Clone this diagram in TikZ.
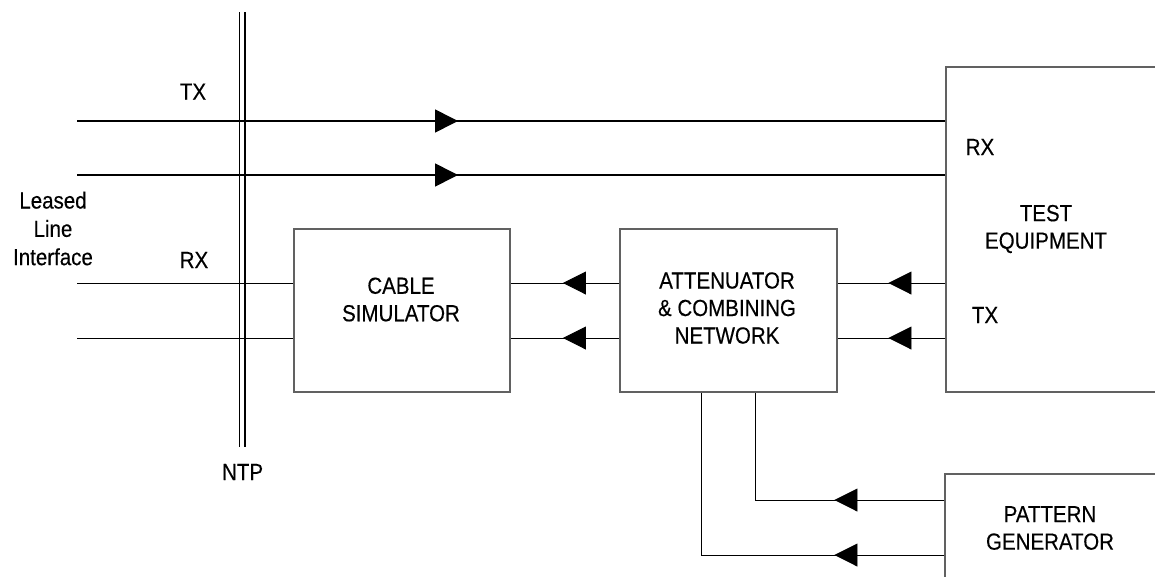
\documentclass[tikz,border=0pt]{standalone}
\usepackage{fontspec}
\setmainfont{Liberation Sans}
\newfontfamily\lblfont[FakeStretch=0.88,FakeBold=0.3]{Liberation Sans}
\usetikzlibrary{arrows.meta,decorations.markings}
\begin{document}
\begin{tikzpicture}[x=1pt,y=-1pt,
  box/.style={draw=black!62, line width=1.1pt, rectangle, inner sep=0pt},
  lbl/.style={font=\lblfont\fontsize{23.3}{27.5}\selectfont, align=center, inner sep=0pt},
  heavy/.style={line width=1.6pt},
  light/.style={line width=0.9pt},
  tip/.style={postaction={decorate},
    decoration={markings, mark=at position #1 with {\arrow{Triangle[length=23pt,width=23pt]}}}}
]
\useasboundingbox (0,0) rectangle (1155,576);
\clip (0,0) rectangle (1155,576);

% blocks
\node[box, minimum width=216pt, minimum height=163pt] (cable) at (402,310.5) {};
\node[box, minimum width=217pt, minimum height=163pt] (atten) at (728.5,310.5) {};
\node[box, minimum width=229pt, minimum height=325pt] (test) at (1060.5,229.5) {};
\node[box, minimum width=230pt, minimum height=126pt] (pattern) at (1060,537) {};

% block texts
\node[lbl] (cabletext) at (401,299.5) {CABLE\\SIMULATOR};
\node[lbl] (attentext) at (727,308) {ATTENUATOR\\\& COMBINING\\NETWORK};
\node[lbl] (testtext) at (1046,229) {TEST\\EQUIPMENT};
\node[lbl] (pattext) at (1050,528) {PATTERN\\GENERATOR};

% port labels
\node[lbl] (txlbl) at (193,91.7) {TX};
\node[lbl] (rxlbl) at (194,260) {RX};
\node[lbl] (terx) at (980,147) {RX};
\node[lbl] (tetx) at (985,315) {TX};
\node[lbl, font=\lblfont\fontsize{23.3}{28.3}\selectfont] (lli) at (53,228.5) {Leased\\Line\\Interface};

% network termination point
\coordinate (ntpa) at (239.5,12);
\coordinate (ntpb) at (245,12);
\draw[light] (ntpa) -- ++(0,435);
\draw[heavy] (ntpb) -- ++(0,435);
\node[lbl] (ntp) at (242.6,472) {NTP};

% transmit pair towards the test equipment
\coordinate (txa) at (77,121);
\coordinate (txb) at (77,175);
\draw[heavy, tip=381pt] (txa) -- (txa -| test.west);
\draw[heavy, tip=381pt] (txb) -- (txb -| test.west);

% receive pair from the cable simulator
\coordinate (rxa) at (77,283);
\coordinate (rxb) at (77,338);
\draw[light] (cable.west |- rxa) -- (rxa);
\draw[light] (cable.west |- rxb) -- (rxb);
\draw[light, tip=56.5pt] (atten.west |- rxa) -- (cable.east |- rxa);
\draw[light, tip=56.5pt] (atten.west |- rxb) -- (cable.east |- rxb);
\draw[light, tip=57pt] (test.west |- rxa) -- (atten.east |- rxa);
\draw[light, tip=57pt] (test.west |- rxb) -- (atten.east |- rxb);

% pattern generator feeds
\coordinate (pa) at (755,500);
\coordinate (pb) at (701,555);
\draw[light, tip=110pt] (pattern.west |- pa) -- (pa) -- (pa |- atten.south);
\draw[light, tip=110pt] (pattern.west |- pb) -- (pb) -- (pb |- atten.south);
\end{tikzpicture}
\end{document}
